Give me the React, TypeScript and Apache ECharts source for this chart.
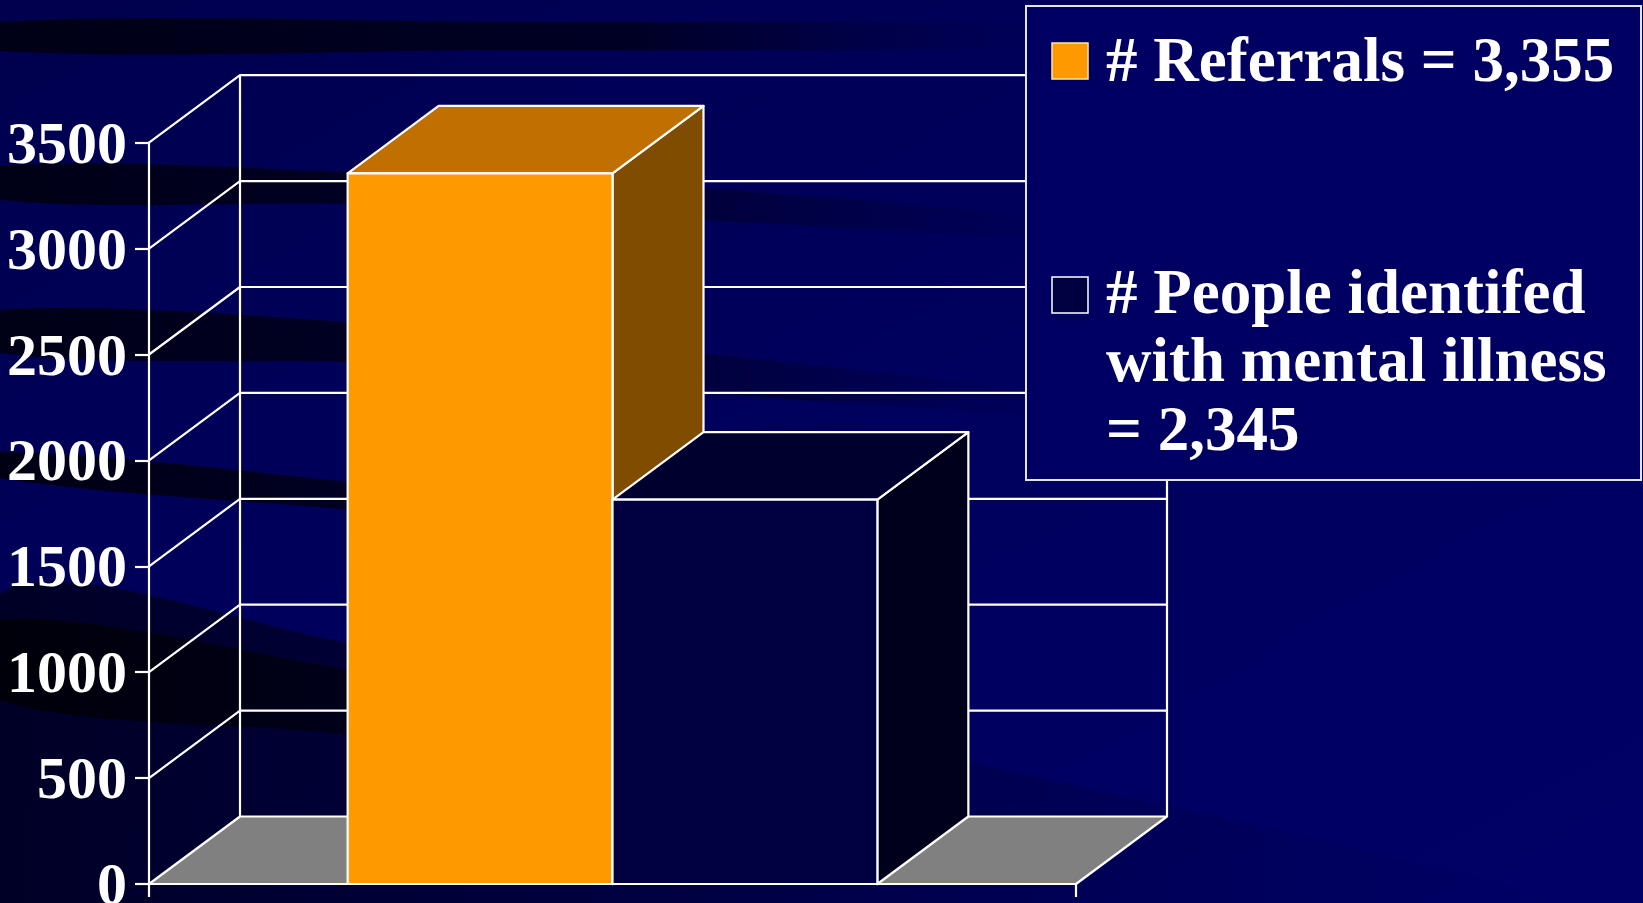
import React, { useEffect, useRef } from "react";
import * as echarts from "echarts";

// ---------- data ----------
const categories = [""];
const seriesNames = ["# Referrals", "# People identified with mental illness"];
const referrals = [3355];
const identified = [1815];
const yTicks = [0, 500, 1000, 1500, 2000, 2500, 3000, 3500];
const legendText1 = ["# Referrals = 3,355"];
const legendText2 = ["# People identifed", "with mental illness", "= 2,345"];

// ---------- style / layout ----------
const FONT = '"Liberation Serif", "Times New Roman", serif';
const DEPTH_X = 91;
const DEPTH_Y = 67.5;
const GAP_RATIO = 1.5;
const LINE = "#FFFFFF";
const LW = 2.2;
const BG = "#000062";

const barColors = [
  { front: "#FF9900", top: "#C07000", side: "#804C00" },
  { front: "#000040", top: "#00002E", side: "#00001A" },
];

function barRenderer(slot: number) {
  const c = barColors[slot];
  return (params: any, api: any) => {
    const ci = api.value(0);
    const v = api.value(1);
    const base = api.coord([ci, 0]);
    const top = api.coord([ci, v]);
    const band = api.size([1, 0])[0];
    const bw = band / (2 + GAP_RATIO);
    const x0 = base[0] - bw + slot * bw;
    const x1 = x0 + bw;
    const y0 = base[1];
    const y1 = top[1];
    const dx = DEPTH_X;
    const dy = DEPTH_Y;
    const ls = { stroke: LINE, lineWidth: LW, lineJoin: "round" };
    return {
      type: "group",
      children: [
        {
          type: "polygon",
          shape: { points: [[x1, y1], [x1 + dx, y1 - dy], [x1 + dx, y0 - dy], [x1, y0]] },
          style: { fill: c.side, ...ls },
        },
        {
          type: "polygon",
          shape: { points: [[x0, y1], [x1, y1], [x1 + dx, y1 - dy], [x0 + dx, y1 - dy]] },
          style: { fill: c.top, ...ls },
        },
        {
          type: "rect",
          shape: { x: x0, y: y1, width: bw, height: y0 - y1 },
          style: { fill: c.front, ...ls },
        },
      ],
    };
  };
}

function wallRenderer(params: any, api: any) {
  const v = api.value(1);
  const p = api.coord([0, v]);
  const band = api.size([1, 0])[0];
  const xl = p[0] - band / 2;
  const xr = p[0] + band / 2;
  const y = p[1];
  const dx = DEPTH_X;
  const dy = DEPTH_Y;
  const children: any[] = [];
  if (params.dataIndex === 0) {
    const yTop = api.coord([0, yTicks[yTicks.length - 1]])[1];
    children.push({
      type: "polygon",
      shape: { points: [[xl, y], [xr, y], [xr + dx, y - dy], [xl + dx, y - dy]] },
      style: { fill: "#808080", stroke: LINE, lineWidth: LW, lineJoin: "round" },
    });
    children.push({
      type: "line",
      shape: { x1: xl + dx, y1: y - dy, x2: xl + dx, y2: yTop - dy },
      style: { stroke: LINE, lineWidth: LW },
    });
    children.push({
      type: "line",
      shape: { x1: xr + dx, y1: y - dy, x2: xr + dx, y2: yTop - dy },
      style: { stroke: LINE, lineWidth: LW },
    });
  } else {
    children.push({
      type: "polyline",
      shape: { points: [[xl, y], [xl + dx, y - dy], [xr + dx, y - dy]] },
      style: { fill: null, stroke: LINE, lineWidth: LW, lineJoin: "round" },
    });
  }
  return { type: "group", children };
}

function hGrad(stops: [number, string][]) {
  return {
    type: "linear",
    x: 0,
    y: 0,
    x2: 1,
    y2: 0,
    colorStops: stops.map(([offset, color]) => ({ offset, color })),
  };
}

function streak(points: number[][], stops: [number, string][]) {
  return {
    type: "polygon",
    z: -1,
    silent: true,
    shape: { points, smooth: 0.3 },
    style: { fill: hGrad(stops) },
  };
}

export default function App() {
  const ref = useRef<HTMLDivElement>(null);

  useEffect(() => {
    document.body.style.margin = "0";
    document.body.style.overflow = "hidden";
    if (!ref.current) return;
    const chart = echarts.init(ref.current, null, { renderer: "svg" });

    const legendFont = `bold 63px ${FONT}`;

    const option: any = {
      animation: false,
      backgroundColor: {
        type: "linear",
        x: 0,
        y: 0,
        x2: 1,
        y2: 1,
        colorStops: [
          { offset: 0, color: "#00004E" },
          { offset: 0.5, color: "#00005E" },
          { offset: 1, color: "#000066" },
        ],
      },
      tooltip: { show: false },
      grid: {
        left: 149,
        top: 142.7,
        width: 927,
        height: 741.3,
        containLabel: false,
        outerBoundsMode: "none",
      },
      xAxis: {
        type: "category",
        data: categories,
        boundaryGap: true,
        axisLine: { show: true, lineStyle: { color: LINE, width: LW } },
        axisTick: { show: true, length: 13, lineStyle: { color: LINE, width: LW } },
        axisLabel: { show: false },
        splitLine: { show: false },
      },
      yAxis: {
        type: "value",
        min: 0,
        max: 3500,
        interval: 500,
        axisLine: { show: true, lineStyle: { color: LINE, width: LW } },
        axisTick: { show: true, length: 14, lineStyle: { color: LINE, width: LW } },
        axisLabel: {
          show: true,
          margin: 22,
          color: "#FFFFFF",
          fontFamily: FONT,
          fontWeight: "bold",
          fontSize: 60,
          formatter: (v: number) => String(v),
        },
        splitLine: { show: false },
      },
      graphic: [
        // background streaks
        streak(
          [[0, 22], [500, 22], [1050, 26], [1050, 46], [500, 50], [0, 51]],
          [[0, "rgba(0,0,22,1)"], [0.6, "rgba(0,0,28,0.85)"], [1, "rgba(0,0,60,0)"]]
        ),
        streak(
          [[0, 166], [350, 172], [700, 188], [1120, 226], [1120, 240], [700, 220], [350, 204], [0, 200]],
          [[0, "rgba(0,0,22,1)"], [0.5, "rgba(0,0,30,0.8)"], [1, "rgba(0,0,60,0)"]]
        ),
        streak(
          [[0, 310], [400, 326], [800, 364], [1100, 402], [1100, 416], [800, 400], [400, 364], [0, 353]],
          [[0, "rgba(0,0,22,1)"], [0.5, "rgba(0,0,30,0.8)"], [1, "rgba(0,0,60,0)"]]
        ),
        streak(
          [[0, 452], [350, 482], [700, 522], [950, 552], [950, 566], [700, 545], [350, 510], [0, 478]],
          [[0, "rgba(0,0,20,1)"], [0.5, "rgba(0,0,26,0.8)"], [1, "rgba(0,0,60,0)"]]
        ),
        streak(
          [[0, 594], [350, 643], [700, 705], [1050, 780], [1400, 860], [1560, 903], [0, 903]],
          [[0, "rgba(0,0,30,0.9)"], [0.45, "rgba(0,0,40,0.55)"], [1, "rgba(0,0,70,0)"]]
        ),
        streak(
          [[0, 620], [350, 670], [700, 732], [700, 790], [350, 735], [0, 700]],
          [[0, "rgba(0,0,8,0.95)"], [0.6, "rgba(0,0,18,0.7)"], [1, "rgba(0,0,30,0)"]]
        ),
        // legend box
        {
          type: "rect",
          z: 100,
          shape: { x: 1026, y: 6, width: 615, height: 474 },
          style: { fill: BG, stroke: "#E4E4E4", lineWidth: 2 },
        },
        {
          type: "rect",
          z: 101,
          shape: { x: 1052, y: 43, width: 36, height: 36 },
          style: { fill: barColors[0].front, stroke: "#FFE6B0", lineWidth: 1.5 },
        },
        {
          type: "text",
          z: 101,
          style: {
            text: legendText1.join("\n"),
            x: 1106,
            y: 59.7,
            font: legendFont,
            fill: "#FFFFFF",
            verticalAlign: "middle",
            lineHeight: 68.5,
          },
        },
        {
          type: "rect",
          z: 101,
          shape: { x: 1052, y: 277, width: 36, height: 36 },
          style: { fill: barColors[1].front, stroke: "#FFFFFF", lineWidth: 1.5 },
        },
        {
          type: "text",
          z: 101,
          style: {
            text: legendText2.join("\n"),
            x: 1106,
            y: 360.4,
            font: legendFont,
            fill: "#FFFFFF",
            verticalAlign: "middle",
            lineHeight: 68.5,
          },
        },
      ],
      series: [
        {
          type: "custom",
          name: "walls",
          silent: true,
          z: 1,
          renderItem: wallRenderer,
          data: yTicks.map((v) => [0, v]),
        },
        {
          type: "custom",
          name: seriesNames[0],
          silent: true,
          z: 3,
          renderItem: barRenderer(0),
          data: referrals.map((v, i) => [i, v]),
        },
        {
          type: "custom",
          name: seriesNames[1],
          silent: true,
          z: 4,
          renderItem: barRenderer(1),
          data: identified.map((v, i) => [i, v]),
        },
      ],
    };

    chart.setOption(option);
    return () => chart.dispose();
  }, []);

  return <div ref={ref} style={{ width: "1643px", height: "903px", display: "block" }} />;
}
